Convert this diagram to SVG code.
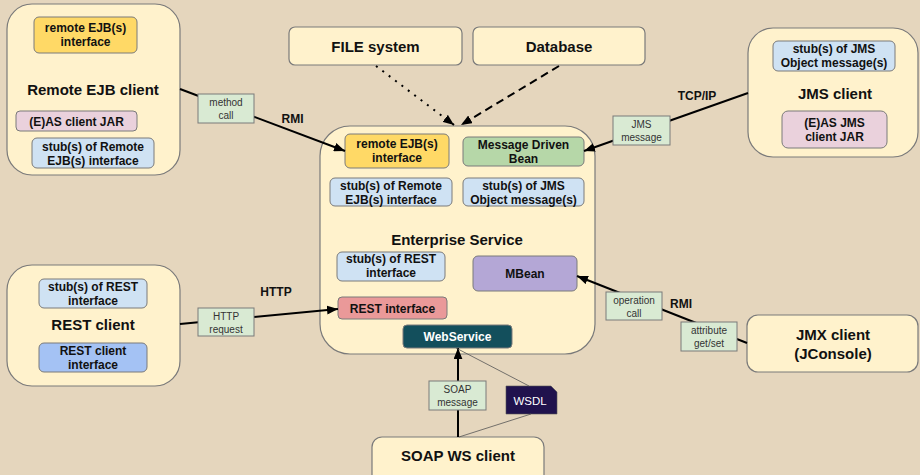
<svg xmlns="http://www.w3.org/2000/svg" width="920" height="475" viewBox="0 0 920 475">
<defs>
<style>
.node{fill:#fff2cc;stroke:#7a7a7a;stroke-width:1.2}
.inner{stroke:#7a7a7a;stroke-width:1}
.t{font-family:"Liberation Sans",Arial,sans-serif;font-weight:bold;font-size:12px;fill:#111;text-anchor:middle}
.title{font-family:"Liberation Sans",Arial,sans-serif;font-weight:bold;font-size:15px;fill:#111;text-anchor:middle}
.lbl{fill:#d9ead3;stroke:#7a7a7a;stroke-width:1}
.lt{font-family:"Liberation Sans",Arial,sans-serif;font-size:10px;fill:#333;text-anchor:middle}
.proto{font-family:"Liberation Sans",Arial,sans-serif;font-weight:bold;font-size:12px;fill:#111;text-anchor:middle}
.conn{stroke:#000;stroke-width:2;fill:none}
.thin{stroke:#555;stroke-width:0.8;fill:none}
</style>
<marker id="arr" viewBox="0 0 10 8" refX="10" refY="4" markerWidth="11" markerHeight="9" markerUnits="userSpaceOnUse" orient="auto">
<path d="M0,0 L10,4 L0,8 z" fill="#000"/>
</marker>
</defs>
<rect x="0" y="0" width="920" height="475" fill="#e5d6bd"/>

<g id="remote-ejb-client">
<rect class="node" x="7" y="4" width="173" height="171" rx="25"/>
<rect class="inner" x="34" y="17" width="103" height="36" rx="5" fill="#ffd966"/>
<text class="t" x="85.5" y="32">remote EJB(s)</text>
<text class="t" x="85.5" y="46">interface</text>
<text class="title" x="93" y="95">Remote EJB client</text>
<rect class="inner" x="16" y="111" width="121" height="20" rx="4" fill="#ead1dc"/>
<text class="t" x="76.5" y="125.5">(E)AS client JAR</text>
<rect class="inner" x="32" y="138" width="122" height="30" rx="5" fill="#cfe2f3"/>
<text class="t" x="93" y="151">stub(s) of Remote</text>
<text class="t" x="93" y="165">EJB(s) interface</text>
</g>

<g id="file-system">
<rect class="node" x="289" y="27" width="173" height="38" rx="6"/>
<text class="title" x="375.5" y="52">FILE system</text>
</g>

<g id="database">
<rect class="node" x="473" y="27" width="172" height="38" rx="6"/>
<text class="title" x="559" y="52">Database</text>
</g>

<g id="jms-client">
<rect class="node" x="748" y="28" width="170" height="129" rx="25"/>
<rect class="inner" x="773" y="41" width="122" height="30" rx="5" fill="#cfe2f3"/>
<text class="t" x="834" y="53">stub(s) of JMS</text>
<text class="t" x="834" y="67">Object message(s)</text>
<text class="title" x="835" y="99">JMS client</text>
<rect class="inner" x="782" y="111" width="105" height="37" rx="6" fill="#ead1dc"/>
<text class="t" x="834.5" y="127">(E)AS JMS</text>
<text class="t" x="834.5" y="141">client JAR</text>
</g>

<g id="rest-client">
<rect class="node" x="7" y="265" width="173" height="121" rx="25"/>
<rect class="inner" x="39" y="279" width="108" height="29" rx="5" fill="#cfe2f3"/>
<text class="t" x="93" y="291">stub(s) of REST</text>
<text class="t" x="93" y="305">interface</text>
<text class="title" x="93" y="330">REST client</text>
<rect class="inner" x="39" y="343" width="108" height="29" rx="5" fill="#a4c2f4"/>
<text class="t" x="93" y="355">REST client</text>
<text class="t" x="93" y="369">interface</text>
</g>

<g id="jmx-client">
<rect class="node" x="747" y="315" width="171" height="57" rx="11"/>
<text class="title" x="833" y="340">JMX client</text>
<text class="title" x="833" y="359">(JConsole)</text>
</g>

<g id="soap-ws-client">
<rect class="node" x="372" y="437" width="172" height="48" rx="10"/>
<text class="title" x="458" y="461">SOAP WS client</text>
</g>

<g id="enterprise-service">
<rect class="node" x="320" y="126" width="275" height="228" rx="30"/>
<rect class="inner" x="345" y="134" width="104" height="34" rx="5" fill="#ffd966"/>
<text class="t" x="397" y="148">remote EJB(s)</text>
<text class="t" x="397" y="162">interface</text>
<rect class="inner" x="463" y="137" width="121" height="29" rx="5" fill="#b6d7a8"/>
<text class="t" x="523.5" y="149">Message Driven</text>
<text class="t" x="523.5" y="163">Bean</text>
<rect class="inner" x="330" y="178" width="122" height="28" rx="5" fill="#cfe2f3"/>
<text class="t" x="391" y="190">stub(s) of Remote</text>
<text class="t" x="391" y="204">EJB(s) interface</text>
<rect class="inner" x="463" y="178" width="121" height="28" rx="5" fill="#cfe2f3"/>
<text class="t" x="523.5" y="190">stub(s) of JMS</text>
<text class="t" x="523.5" y="204">Object message(s)</text>
<text class="title" x="457" y="245">Enterprise Service</text>
<rect class="inner" x="337" y="252" width="108" height="29" rx="5" fill="#cfe2f3"/>
<text class="t" x="391" y="263">stub(s) of REST</text>
<text class="t" x="391" y="277">interface</text>
<rect class="inner" x="473" y="256" width="104" height="35" rx="5" fill="#b4a7d6"/>
<text class="t" x="525" y="278">MBean</text>
<rect class="inner" x="338" y="297" width="109" height="22" rx="4" fill="#ea9999"/>
<text class="t" x="392.5" y="312.5">REST interface</text>
<rect class="inner" x="403" y="325" width="109" height="23" rx="4" fill="#134f5c"/>
<text class="t" x="457.5" y="341" style="fill:#ffffff">WebService</text>
</g>

<g id="wsdl">
<path d="M506,386 L551,386 L557,392 L557,414 L506,414 z" fill="#20124d" stroke="#555" stroke-width="0.6"/>
<text x="530" y="405" font-family="Liberation Sans, Arial, sans-serif" font-size="11.5" fill="#ffffff" text-anchor="middle">WSDL</text>
</g>

<g id="connectors">
<line class="conn" x1="180" y1="89" x2="345" y2="151" marker-end="url(#arr)"/>
<line class="conn" x1="748" y1="93" x2="584" y2="151" marker-end="url(#arr)"/>
<line class="conn" x1="180" y1="324" x2="338" y2="309" marker-end="url(#arr)"/>
<line class="conn" x1="747" y1="343" x2="577" y2="276" marker-end="url(#arr)"/>
<line class="conn" x1="458" y1="437" x2="458" y2="348" marker-end="url(#arr)"/>
<line class="conn" x1="376" y1="66" x2="454" y2="125" stroke-dasharray="2 6" marker-end="url(#arr)"/>
<line class="conn" x1="559" y1="66" x2="461" y2="125" stroke-dasharray="8 5" marker-end="url(#arr)"/>
<line class="thin" x1="456" y1="348" x2="529" y2="386"/>
<line class="thin" x1="531" y1="414" x2="459" y2="437"/>
</g>

<g id="connector-labels">
<rect class="lbl" x="198" y="94" width="56" height="29"/>
<text class="lt" x="226" y="106">method</text>
<text class="lt" x="226" y="119">call</text>
<text class="proto" x="292.5" y="123">RMI</text>

<rect class="lbl" x="613" y="116" width="57" height="29"/>
<text class="lt" x="641.5" y="128">JMS</text>
<text class="lt" x="641.5" y="141">message</text>
<text class="proto" x="697" y="100">TCP/IP</text>

<rect class="lbl" x="198" y="308" width="56" height="28"/>
<text class="lt" x="226" y="320">HTTP</text>
<text class="lt" x="226" y="333">request</text>
<text class="proto" x="276" y="296">HTTP</text>

<rect class="lbl" x="606" y="292" width="56" height="28"/>
<text class="lt" x="634" y="304">operation</text>
<text class="lt" x="634" y="317">call</text>
<text class="proto" x="681" y="308">RMI</text>

<rect class="lbl" x="681" y="322" width="56" height="29"/>
<text class="lt" x="709" y="334">attribute</text>
<text class="lt" x="709" y="347">get/set</text>

<rect class="lbl" x="429" y="381" width="57" height="29"/>
<text class="lt" x="457.5" y="393">SOAP</text>
<text class="lt" x="457.5" y="406">message</text>
</g>
</svg>
